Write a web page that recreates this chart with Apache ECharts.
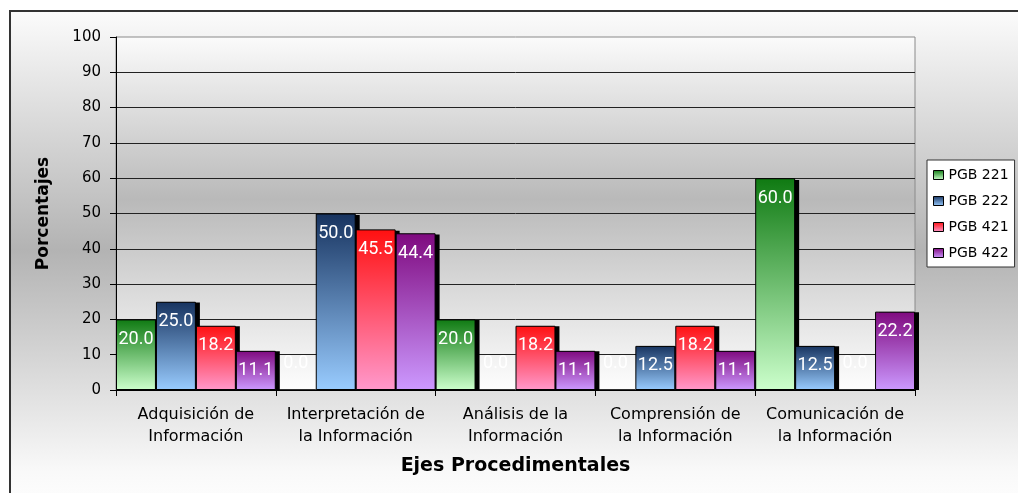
<!DOCTYPE html>
<html>
<head>
<meta charset="utf-8">
<title>Ejes Procedimentales</title>
<script src="https://cdn.jsdelivr.net/npm/echarts@6/dist/echarts.min.js"></script>
<style>
  html, body { margin: 0; padding: 0; background: #fff; overflow: hidden; }
  #frame {
    position: absolute; left: 9px; top: 10px; width: 1020px; height: 490px;
    border-top: 2px solid #333; border-left: 2px solid #333;
    background: linear-gradient(to bottom, #fbfbfb 0px, #b3b3b3 238px, #f9f9f9 460px, #fdfdfd 490px);
  }
  #chart { position: absolute; left: 0; top: 0; width: 1018px; height: 493px; }
</style>
</head>
<body>
<div id="frame"></div>
<div id="chart"></div>
<script>
// categories on the x axis
const categories = [
  "Adquisición de\nInformación",
  "Interpretación de\nla Información",
  "Análisis de la\nInformación",
  "Comprensión de\nla Información",
  "Comunicación de\nla Información"
];
const seriesNames = ["PGB 221", "PGB 222", "PGB 421", "PGB 422"];

// percentages per group
const pgb221 = [20.0, 0.0, 20.0, 0.0, 60.0];
const pgb222 = [25.0, 50.0, 0.0, 12.5, 12.5];
const pgb421 = [18.2, 45.5, 18.2, 18.2, 0.0];
const pgb422 = [11.1, 44.4, 11.1, 11.1, 22.2];

const yMin = 0;
const yMax = 100;
const yStep = 10;

const allValues = [pgb221, pgb222, pgb421, pgb422];

// top (dark) -> bottom (light) gradient for each series
const gradients = [
  ["#0f7a12", "#ccffcc"],
  ["#17335f", "#99ccff"],
  ["#ff1010", "#ff99cc"],
  ["#7f0a7f", "#cc99ff"]
];

const chart = echarts.init(document.getElementById("chart"));

function barGradient(pair) {
  return new echarts.graphic.LinearGradient(0, 0, 0, 1, [
    { offset: 0, color: pair[0] },
    { offset: 1, color: pair[1] }
  ]);
}

// main bars (grid 0)
const mainSeries = seriesNames.map((name, i) => ({
  name: name,
  type: "bar",
  z: 3,
  barGap: "0%",
  barCategoryGap: "0%",
  data: allValues[i].map(v =>
    v === 0 ? { value: v, label: { position: "insideBottom", distance: 18 } } : v
  ),
  itemStyle: {
    color: barGradient(gradients[i]),
    borderColor: "#000",
    borderWidth: 1
  },
  label: {
    show: true,
    position: "insideTop",
    distance: 11,
    color: "#fff",
    fontFamily: "Roboto",
    fontSize: 18,
    formatter: p => p.value.toFixed(1)
  },
  emphasis: { disabled: true }
}));

// drop shadows: same values on a grid shifted a few pixels right/down, drawn underneath
const shadowSeries = seriesNames.map((name, i) => ({
  name: name + " (sombra)",
  type: "bar",
  xAxisIndex: 1,
  yAxisIndex: 1,
  z: 1,
  silent: true,
  barGap: "0%",
  barCategoryGap: "0%",
  data: allValues[i],
  itemStyle: { color: "#000" },
  label: { show: false },
  emphasis: { disabled: true }
}));

const option = {
  animation: false,
  backgroundColor: "transparent",
  textStyle: { fontFamily: "DejaVu Sans" },
  grid: [
    {
      left: 116,
      top: 37,
      right: 103,
      bottom: 103,
      outerBoundsMode: "none",
      show: true,
      borderColor: "#8a8a8a",
      borderWidth: 1,
      backgroundColor: new echarts.graphic.LinearGradient(0, 0, 0, 1, [
        { offset: 0, color: "#fbfbfb" },
        { offset: 0.46, color: "#b9b9b9" },
        { offset: 0.86, color: "#ececec" },
        { offset: 1, color: "#fefefe" }
      ])
    },
    {
      left: 120,
      top: 40,
      right: 99,
      bottom: 103,
      outerBoundsMode: "none",
      show: false
    }
  ],
  legend: {
    data: seriesNames,
    orient: "vertical",
    left: 927,
    top: 160,
    padding: [7, 6, 6, 6],
    itemWidth: 10,
    itemHeight: 9,
    itemGap: 10,
    icon: "rect",
    backgroundColor: "#fff",
    borderColor: "#333",
    borderWidth: 1,
    itemStyle: { borderColor: "#000", borderWidth: 1 },
    textStyle: { fontFamily: "DejaVu Sans", fontSize: 14, lineHeight: 16, color: "#000" }
  },
  xAxis: [
    {
      type: "category",
      gridIndex: 0,
      data: categories,
      name: "Ejes Procedimentales",
      nameLocation: "middle",
      nameGap: 67,
      nameTextStyle: { fontFamily: "DejaVu Sans", fontWeight: "bold", fontSize: 19, color: "#000" },
      axisLine: { lineStyle: { color: "#000", width: 1 } },
      axisTick: { show: true, length: 6, interval: 0, lineStyle: { color: "#000" } },
      axisLabel: {
        interval: 0,
        margin: 14,
        fontFamily: "DejaVu Sans",
        fontSize: 16,
        lineHeight: 22,
        color: "#000"
      },
      splitLine: { show: false }
    },
    {
      type: "category",
      gridIndex: 1,
      data: categories,
      show: false
    }
  ],
  yAxis: [
    {
      type: "value",
      gridIndex: 0,
      min: yMin,
      max: yMax,
      interval: yStep,
      name: "Porcentajes",
      nameLocation: "middle",
      nameRotate: 90,
      nameGap: 64,
      nameTextStyle: { fontFamily: "DejaVu Sans", fontWeight: "bold", fontSize: 17, color: "#000" },
      axisLine: { show: true, lineStyle: { color: "#000", width: 1 } },
      axisTick: { show: true, length: 6, lineStyle: { color: "#000" } },
      axisLabel: { margin: 15, fontFamily: "DejaVu Sans", fontSize: 15, color: "#000" },
      splitLine: { show: true, showMaxLine: false, lineStyle: { color: "#222", width: 1 } }
    },
    {
      type: "value",
      gridIndex: 1,
      min: yMin,
      max: yMax,
      interval: yStep,
      show: false,
      splitLine: { show: false }
    }
  ],
  series: shadowSeries.concat(mainSeries)
};

chart.setOption(option);
</script>
</body>
</html>
